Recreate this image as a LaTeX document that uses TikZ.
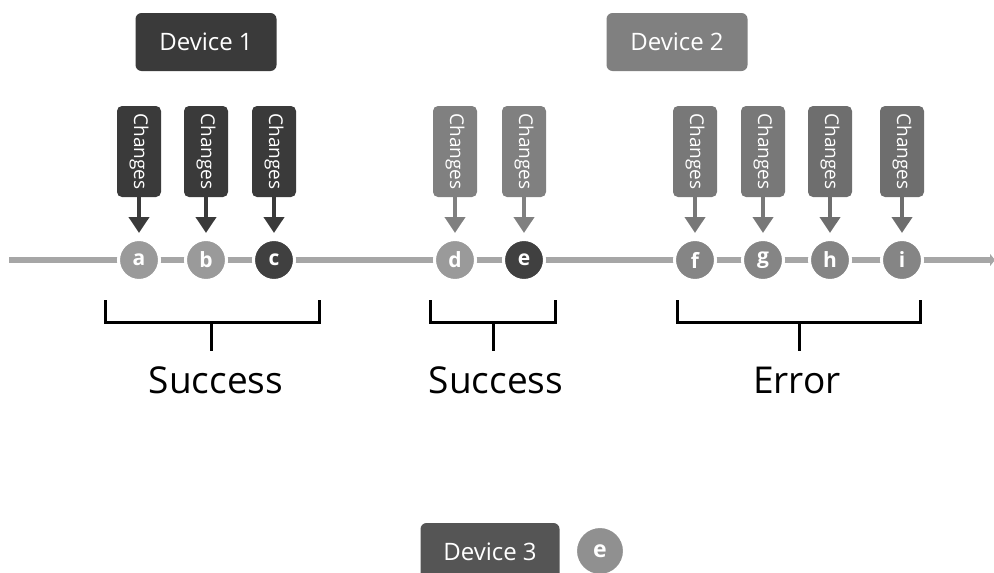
\documentclass[tikz,border=0pt]{standalone}
\usepackage{fontspec}
\setmainfont{Open Sans}
\usetikzlibrary{arrows.meta}
\definecolor{dk}{HTML}{3A3A3A}
\definecolor{dkdot}{HTML}{404040}
\definecolor{md}{HTML}{808080}
\definecolor{mdA}{HTML}{787878}
\definecolor{mdB}{HTML}{6E6E6E}
\definecolor{lt}{HTML}{9A9A9A}
\definecolor{ltB}{HTML}{858585}
\definecolor{line}{HTML}{A6A6A6}
\definecolor{dev3}{HTML}{555555}
\definecolor{dot3}{HTML}{909090}
\tikzset{
  devbox/.style={fill=#1, rounded corners=6pt, minimum width=141pt, minimum height=58pt,
    text=white, font=\fontsize{24}{28}\selectfont, inner sep=0pt},
  chg/.style={fill=#1, rounded corners=5pt, rotate=-90, minimum width=91pt, minimum height=44pt,
    text=white, font=\fontsize{19}{20}\selectfont, inner sep=0pt},
  dot/.style={circle, fill=#1, draw=white, line width=3pt, minimum size=41pt, inner sep=0pt,
    text=white, font=\bfseries\fontsize{21}{22}\selectfont},
  arr/.style={draw=#1, line width=4.5pt, -{Triangle[width=20pt,length=16pt]}, shorten >=5pt},
  brk/.style={line width=3pt, black},
  res/.style={anchor=base, font=\fontsize{37}{40}\selectfont, inner sep=0pt}
}
\begin{document}
\begin{tikzpicture}[x=1pt,y=-1pt]
\useasboundingbox (0,0) rectangle (994,573);
% timeline
\coordinate (tstart) at (9,260);
\coordinate (tend) at (995,260);
\draw[line, line width=6pt, -{Triangle[width=12pt,length=5pt]}] (tstart) -- (tend);
% devices
\node[devbox=dk] (dev1) at (206,42) {Device 1};
\node[devbox=md] (dev2) at (677,42) {Device 2};
\node[devbox=dev3, minimum width=139pt] (dev3) at (490,552) {Device 3};
\node[dot=dot3, minimum size=49pt, font=\bfseries\fontsize{23}{24}\selectfont] (e3) at (600,551) {e};
% dots
\node[dot=lt] (a) at (139,260) {a};
\node[dot=lt] (b) at (206,260) {b};
\node[dot=dkdot] (c) at (274,260) {c};
\node[dot=lt] (d) at (455,260) {d};
\node[dot=dkdot] (e) at (524,260) {e};
\node[dot=ltB] (f) at (695,260) {f};
\node[dot=ltB] (g) at (763,260) {g};
\node[dot=ltB] (h) at (830,260) {h};
\node[dot=ltB] (i) at (902,260) {i};
% change boxes
\node[chg=dk] (ca) at (139,151.5) {Changes};
\node[chg=dk] (cb) at (206,151.5) {Changes};
\node[chg=dk] (cc) at (274,151.5) {Changes};
\node[chg=md] (cd) at (455,151.5) {Changes};
\node[chg=md] (ce) at (524,151.5) {Changes};
\node[chg=mdA] (cf) at (695,151.5) {Changes};
\node[chg=mdA] (cg) at (763,151.5) {Changes};
\node[chg=mdB] (ch) at (830,151.5) {Changes};
\node[chg=mdB] (ci) at (902,151.5) {Changes};
% arrows
\draw[arr=dk] (ca) -- (a);
\draw[arr=dk] (cb) -- (b);
\draw[arr=dk] (cc) -- (c);
\draw[arr=md] (cd) -- (d);
\draw[arr=md] (ce) -- (e);
\draw[arr=mdA] (cf) -- (f);
\draw[arr=mdA] (cg) -- (g);
\draw[arr=mdB] (ch) -- (h);
\draw[arr=mdB] (ci) -- (i);
% brackets
\draw[brk] (105,300) -- (105,322) -- (319,322) -- (319,300) (211,322) -- (211,351);
\draw[brk] (430,300) -- (430,322) -- (555,322) -- (555,300) (493,322) -- (493,351);
\draw[brk] (677,300) -- (677,322) -- (920,322) -- (920,300) (799,322) -- (799,351);
\node[res] (s1) at (216,393) {Success};
\node[res] (s2) at (496,393) {Success};
\node[res] (err) at (797,393) {Error};
\end{tikzpicture}
\end{document}
